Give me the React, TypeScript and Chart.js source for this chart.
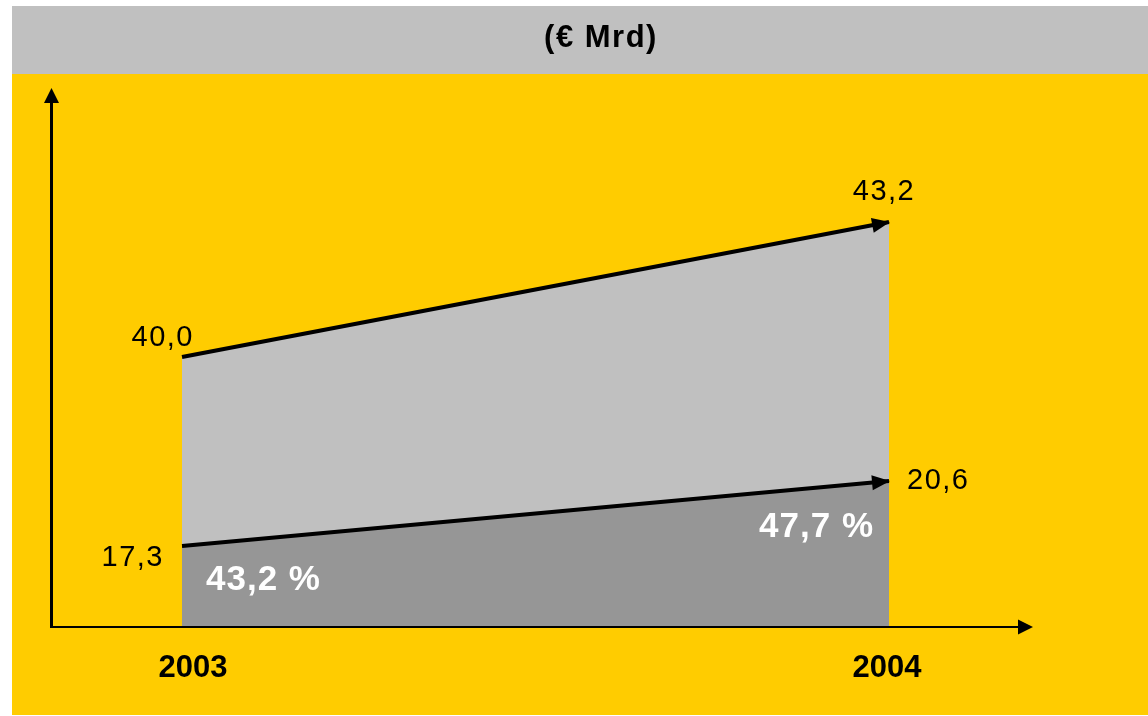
import React, { useEffect, useRef } from 'react';
import { Chart, registerables } from 'chart.js';

Chart.register(...registerables);

// ---- data ----
const categories = ['2003', '2004'];
const totalValues = [40.0, 43.2];
const partValues = [17.3, 20.6];
const shareValues = [43.2, 47.7];
const titleText = '(€ Mrd)';

const fmt = (v: number) => v.toFixed(1).replace('.', ',');

const W = 1136;
const H = 709;
const FONT = '"Liberation Sans", Arial, Helvetica, sans-serif';

function arrowHead(ctx: CanvasRenderingContext2D, x: number, y: number, angle: number, len: number, half: number) {
  ctx.save();
  ctx.translate(x, y);
  ctx.rotate(angle);
  ctx.beginPath();
  ctx.moveTo(0, 0);
  ctx.lineTo(-len, -half);
  ctx.lineTo(-len, half);
  ctx.closePath();
  ctx.fill();
  ctx.restore();
}

const decorPlugin = {
  id: 'decor',
  beforeDraw(chart: any) {
    const ctx: CanvasRenderingContext2D = chart.ctx;
    ctx.save();
    ctx.fillStyle = '#C0C0C0';
    ctx.fillRect(0, 0, chart.width, 68);
    ctx.fillStyle = '#FFCC00';
    ctx.fillRect(0, 68, chart.width, chart.height - 68);
    ctx.fillStyle = '#000';
    ctx.font = `bold 31px ${FONT}`;
    (ctx as any).letterSpacing = '1.5px';
    ctx.textAlign = 'center';
    ctx.textBaseline = 'middle';
    ctx.fillText(titleText, 589, 32);
    ctx.restore();
  },
  afterDatasetsDraw(chart: any) {
    const ctx: CanvasRenderingContext2D = chart.ctx;
    const area = chart.chartArea;
    const partMeta = chart.getDatasetMeta(0);
    const totalMeta = chart.getDatasetMeta(1);
    ctx.save();
    ctx.fillStyle = '#000';
    ctx.strokeStyle = '#000';

    // axes with arrows
    const axX = 39.5;
    const base = area.bottom;
    ctx.lineWidth = 3;
    ctx.beginPath();
    ctx.moveTo(axX, base + 1);
    ctx.lineTo(axX, 96);
    ctx.stroke();
    arrowHead(ctx, axX, 82, -Math.PI / 2, 15, 7.5);
    ctx.lineWidth = 2;
    ctx.beginPath();
    ctx.moveTo(axX - 1, base);
    ctx.lineTo(1010, base);
    ctx.stroke();
    arrowHead(ctx, 1021, base, 0, 15, 7.5);

    // arrowheads at the end of each series line
    [partMeta, totalMeta].forEach((meta: any) => {
      const p0 = meta.data[0];
      const p1 = meta.data[meta.data.length - 1];
      const ang = Math.atan2(p1.y - p0.y, p1.x - p0.x);
      arrowHead(ctx, p1.x + 1, p1.y, ang, 18, 7.5);
    });

    // value labels
    ctx.font = `29px ${FONT}`;
    (ctx as any).letterSpacing = '1.5px';
    ctx.textBaseline = 'middle';
    const t0 = totalMeta.data[0];
    const t1 = totalMeta.data[1];
    const q0 = partMeta.data[0];
    const q1 = partMeta.data[1];
    ctx.textAlign = 'right';
    ctx.fillText(fmt(totalValues[0]), t0.x + 12, t0.y - 19);
    ctx.fillText(fmt(partValues[0]), q0.x - 18, q0.y + 12);
    ctx.textAlign = 'center';
    ctx.fillText(fmt(totalValues[1]), t1.x - 5, t1.y - 30);
    ctx.textAlign = 'left';
    ctx.fillText(fmt(partValues[1]), q1.x + 18, q1.y);

    // share labels
    ctx.fillStyle = '#FFFFFF';
    ctx.font = `bold 35px ${FONT}`;
    (ctx as any).letterSpacing = '1px';
    ctx.textAlign = 'left';
    ctx.fillText(fmt(shareValues[0]) + ' %', q0.x + 24, q0.y + 34);
    ctx.textAlign = 'right';
    ctx.fillText(fmt(shareValues[1]) + ' %', q1.x - 15, q1.y + 46);

    // category labels
    ctx.fillStyle = '#000';
    ctx.font = `bold 31px ${FONT}`;
    (ctx as any).letterSpacing = '0px';
    ctx.textAlign = 'center';
    const xs = chart.scales.x;
    const shifts = [11, -2];
    categories.forEach((c, i) => {
      ctx.fillText(c, xs.getPixelForValue(i) + shifts[i], base + 41);
    });
    ctx.restore();
  },
};

export default function App() {
  const ref = useRef<HTMLCanvasElement | null>(null);
  useEffect(() => {
    if (!ref.current) return;
    const chart = new Chart(ref.current, {
      type: 'line',
      data: {
        labels: categories,
        datasets: [
          {
            label: 'part',
            data: partValues,
            yAxisID: 'yPart',
            borderColor: '#000000',
            borderWidth: 4,
            backgroundColor: '#969696',
            fill: 'start',
            pointRadius: 0,
            tension: 0,
          },
          {
            label: 'total',
            data: totalValues,
            yAxisID: 'yTotal',
            borderColor: '#000000',
            borderWidth: 4,
            backgroundColor: '#C0C0C0',
            fill: 'start',
            pointRadius: 0,
            tension: 0,
          },
        ],
      },
      options: {
        responsive: false,
        animation: false,
        layout: { padding: { left: 170, right: 259, top: 84, bottom: 88 } },
        plugins: {
          legend: { display: false },
          tooltip: { enabled: false },
          title: { display: false },
        },
        scales: {
          x: { type: 'category', display: false, offset: false },
          yTotal: { type: 'linear', display: false, min: 33.6, max: 46.33 },
          yPart: { type: 'linear', display: false, min: 13.19, max: 40.45 },
        },
      },
      plugins: [decorPlugin],
    });
    return () => chart.destroy();
  }, []);
  return (
    <div style={{ position: 'fixed', left: 12, top: 6, width: W, height: H }}>
      <canvas ref={ref} width={W} height={H} style={{ width: W, height: H, display: 'block' }} />
    </div>
  );
}
